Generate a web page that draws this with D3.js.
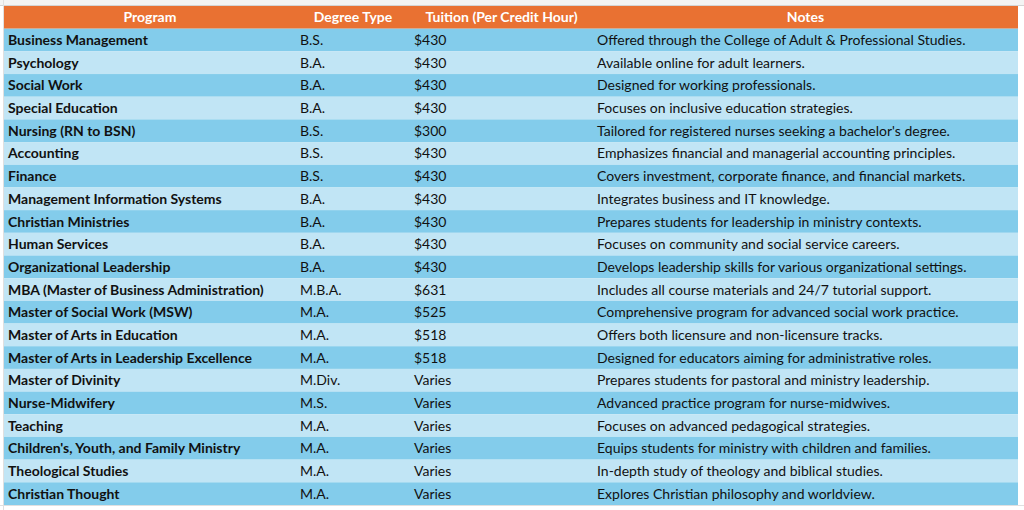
<!DOCTYPE html>
<html><head><meta charset="utf-8">
<script src="https://cdn.jsdelivr.net/npm/d3@7"></script>
<style>body{margin:0;background:#fff}</style>
</head><body><div id="chart"></div>
<script>
const W = 1024, H = 510
const headers = ['Program', 'Degree Type', 'Tuition (Per Credit Hour)', 'Notes']
const programs = ['Business Management', 'Psychology', 'Social Work', 'Special Education', 'Nursing (RN to BSN)', 'Accounting', 'Finance', 'Management Information Systems', 'Christian Ministries', 'Human Services', 'Organizational Leadership', 'MBA (Master of Business Administration)', 'Master of Social Work (MSW)', 'Master of Arts in Education', 'Master of Arts in Leadership Excellence', 'Master of Divinity', 'Nurse-Midwifery', 'Teaching', "Children's, Youth, and Family Ministry", 'Theological Studies', 'Christian Thought']
const degrees = ['B.S.', 'B.A.', 'B.A.', 'B.A.', 'B.S.', 'B.S.', 'B.S.', 'B.A.', 'B.A.', 'B.A.', 'B.A.', 'M.B.A.', 'M.A.', 'M.A.', 'M.A.', 'M.Div.', 'M.S.', 'M.A.', 'M.A.', 'M.A.', 'M.A.']
const tuition = ['$430', '$430', '$430', '$430', '$300', '$430', '$430', '$430', '$430', '$430', '$430', '$631', '$525', '$518', '$518', 'Varies', 'Varies', 'Varies', 'Varies', 'Varies', 'Varies']
const notes = ['Offered through the College of Adult & Professional Studies.', 'Available online for adult learners.', 'Designed for working professionals.', 'Focuses on inclusive education strategies.', "Tailored for registered nurses seeking a bachelor's degree.", 'Emphasizes financial and managerial accounting principles.', 'Covers investment, corporate finance, and financial markets.', 'Integrates business and IT knowledge.', 'Prepares students for leadership in ministry contexts.', 'Focuses on community and social service careers.', 'Develops leadership skills for various organizational settings.', 'Includes all course materials and 24/7 tutorial support.', 'Comprehensive program for advanced social work practice.', 'Offers both licensure and non-licensure tracks.', 'Designed for educators aiming for administrative roles.', 'Prepares students for pastoral and ministry leadership.', 'Advanced practice program for nurse-midwives.', 'Focuses on advanced pedagogical strategies.', 'Equips students for ministry with children and families.', 'In-depth study of theology and biblical studies.', 'Explores Christian philosophy and worldview.']

const colEdges = [4, 296, 410, 593, 1018]
const rows = programs.map((p, i) => [p, degrees[i], tuition[i], notes[i]])
const y = d3.scaleBand().domain(d3.range(rows.length + 1)).range([6, 505])

const svg = d3.select('#chart').append('svg').attr('width', W).attr('height', H)
  .style('font-family', 'Lato, "Noto Sans", sans-serif')

// spreadsheet backdrop
svg.append('rect').attr('width', W).attr('height', 6).attr('fill', '#f3f3f3')
svg.append('line').attr('x1', 0).attr('x2', W).attr('y1', 5.5).attr('y2', 5.5).attr('stroke', '#d4d4d4')
svg.append('line').attr('x1', 3.5).attr('x2', 3.5).attr('y1', 0).attr('y2', H).attr('stroke', '#e0e0e0')
svg.append('line').attr('x1', 0).attr('x2', W).attr('y1', 505.5).attr('y2', 505.5).attr('stroke', '#e0e0e0')

// header
svg.append('rect').attr('x', colEdges[0]).attr('y', y(0)).attr('width', colEdges[4] - colEdges[0])
  .attr('height', y.bandwidth()).attr('fill', '#E97132')
svg.selectAll('text.h').data(headers).join('text').attr('class', 'h')
  .attr('x', (d, i) => (colEdges[i] + colEdges[i + 1]) / 2)
  .attr('y', y(0) + y.bandwidth() / 2).attr('dy', '0.36em')
  .attr('text-anchor', 'middle').attr('fill', '#fff').attr('font-weight', 'bold').attr('font-size', '14px')
  .text(d => d)

const g = svg.selectAll('g.row').data(rows).join('g').attr('class', 'row')
  .attr('transform', (d, i) => `translate(0,${y(i + 1)})`)
g.append('rect').attr('x', colEdges[0]).attr('width', colEdges[4] - colEdges[0])
  .attr('height', y.bandwidth()).attr('fill', (d, i) => i % 2 ? '#C1E5F5' : '#83CCEB')
g.selectAll('text').data(d => d).join('text')
  .attr('x', (d, i) => colEdges[i] + 4)
  .attr('y', y.bandwidth() / 2).attr('dy', '0.36em')
  .attr('fill', '#111').attr('font-size', '14px')
  .attr('font-weight', (d, i) => i === 0 ? 'bold' : 'normal')
  .text(d => d)
</script></body></html>
